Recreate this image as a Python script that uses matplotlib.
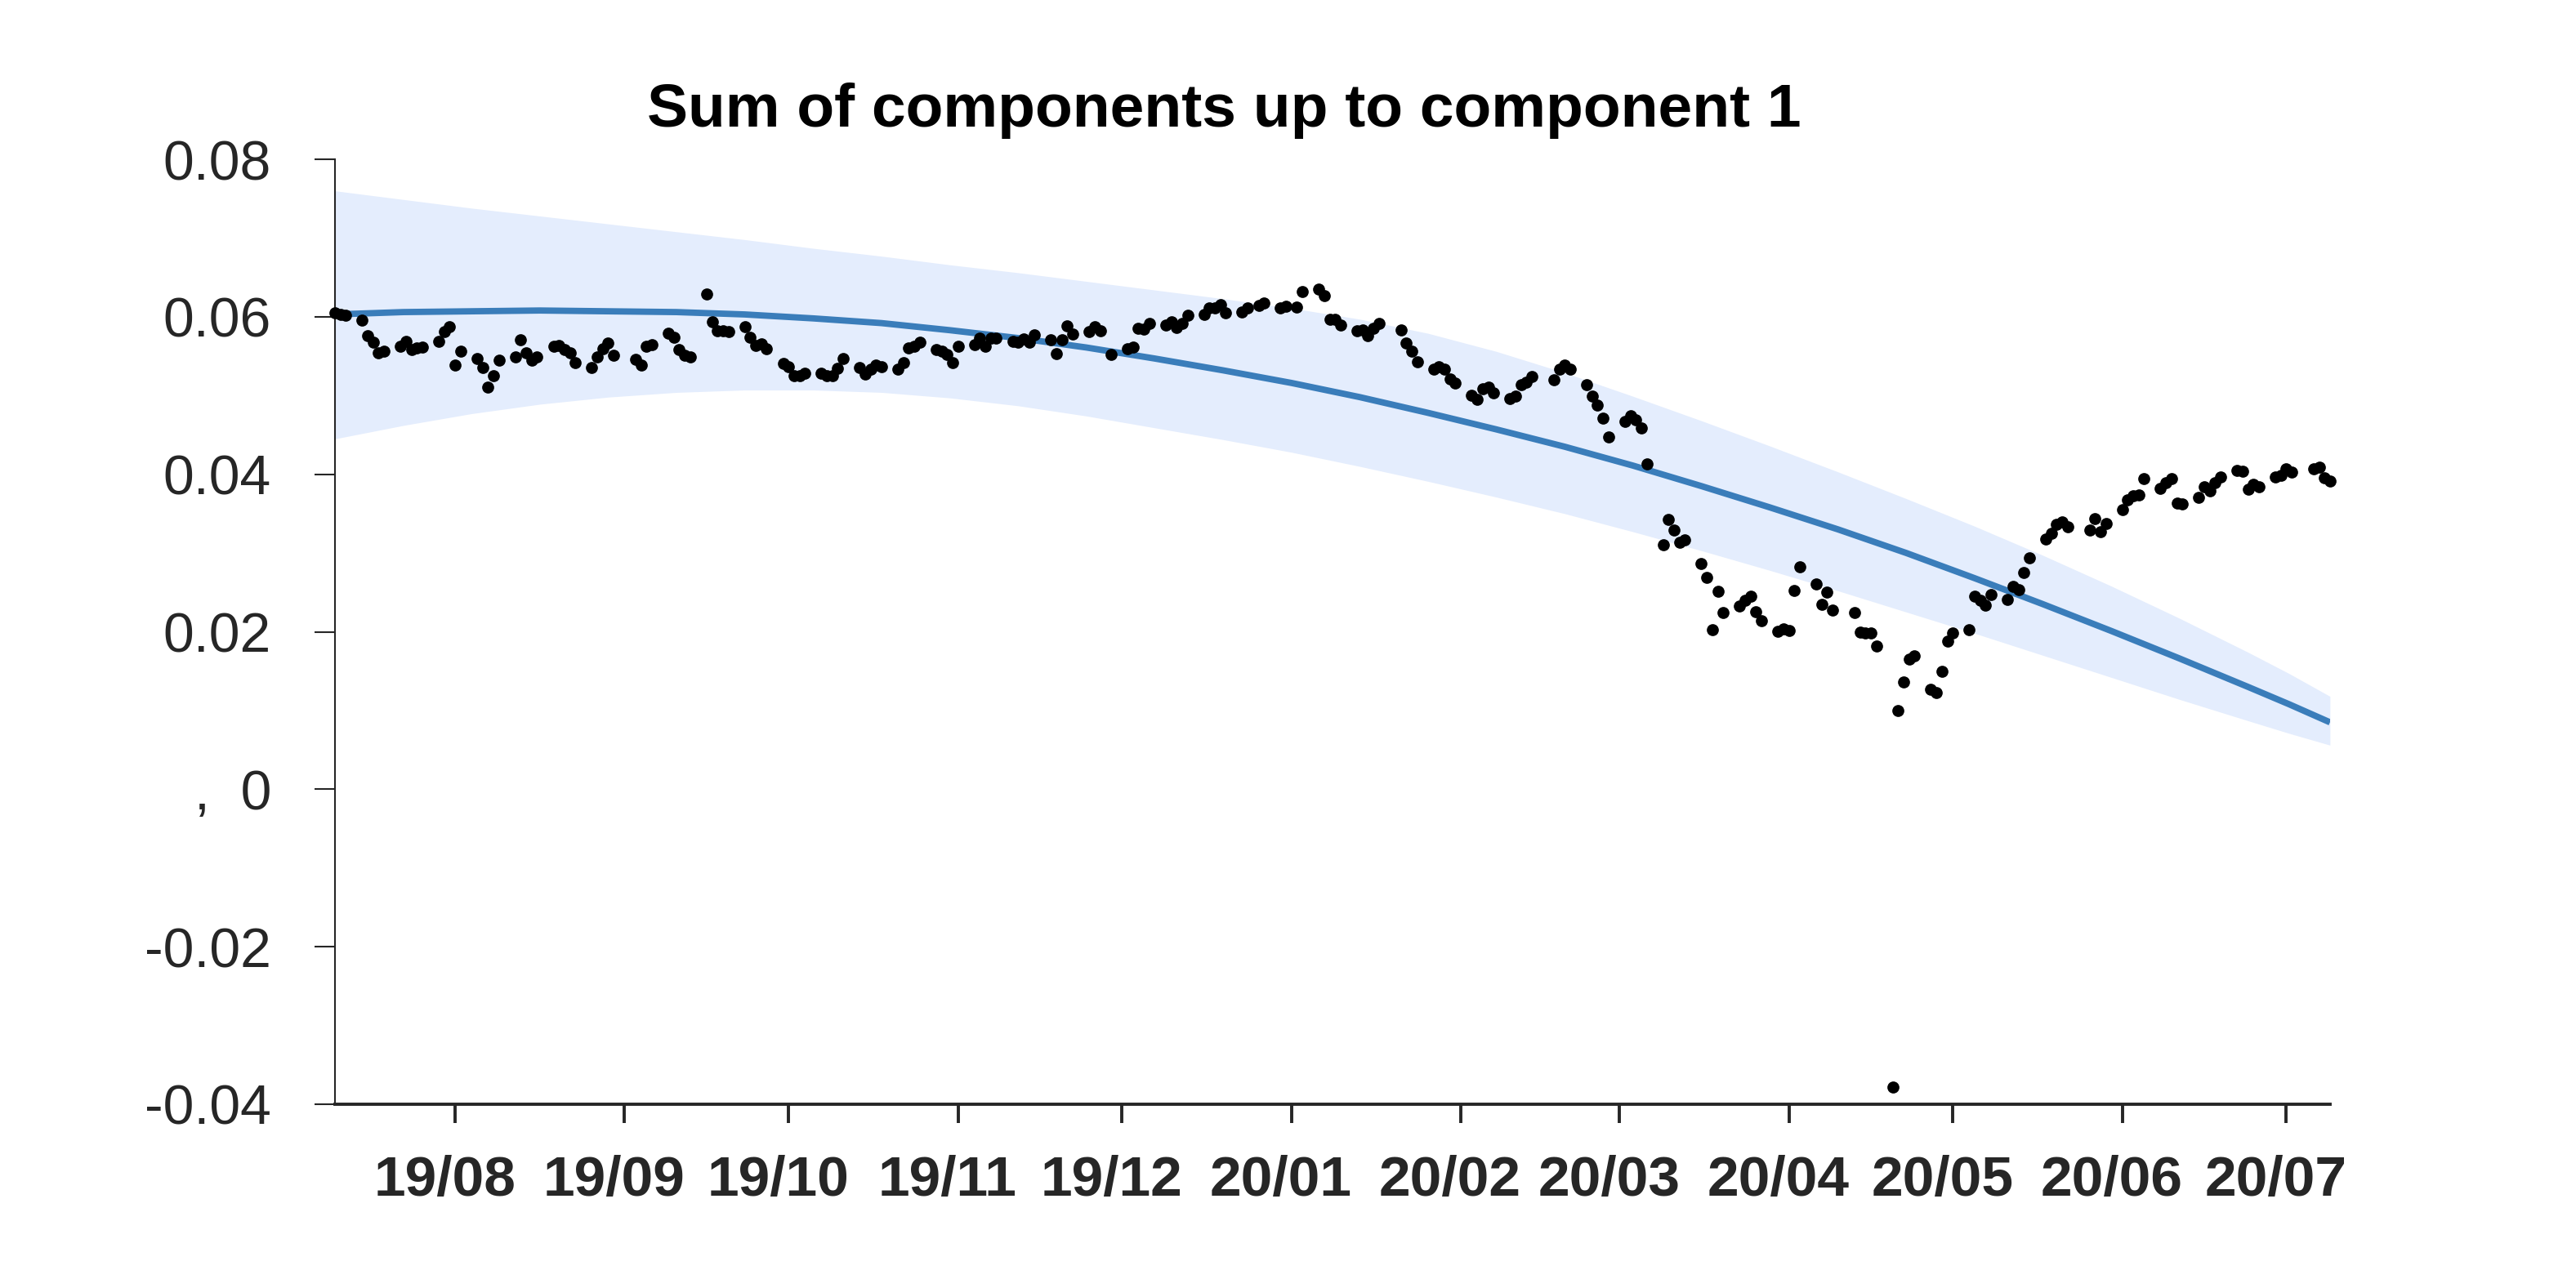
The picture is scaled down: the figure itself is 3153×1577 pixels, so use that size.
"""
Sum of components up to component 1 - observed daily values + fitted curve
with its confidence band.
"""

import numpy as np
import pandas as pd
import matplotlib
matplotlib.use('Agg')
import matplotlib.pyplot as plt
import matplotlib.transforms as mtransforms

plt.rcParams.update({
    'font.family': ['Liberation Sans', 'DejaVu Sans'],
    'axes.spines.top': False,
    'axes.spines.right': False,
})

C_LINE = '#3a7dba'
C_BAND = '#e4edfd'
C_AXIS = '#262626'

TITLE = 'Sum of components up to component 1'

START, END = '2019-07-10', '2020-07-09'
HOLIDAYS = ['2019-09-02', '2019-11-28', '2019-12-25', '2020-01-01', '2020-01-20',
            '2020-02-17', '2020-04-10', '2020-05-25', '2020-07-03']

# observed values, one per trading day, grouped by month
obs_2019_07 = [0.0605, 0.0603, 0.0602, 0.0596, 0.0576, 0.0568, 0.0554, 0.0556,
               0.0563, 0.0569, 0.0558, 0.0560, 0.0562, 0.0569, 0.0581, 0.0587]
obs_2019_08 = [0.0539, 0.0556, 0.0547, 0.0536, 0.0511, 0.0525, 0.0545, 0.0549,
               0.0571, 0.0554, 0.0545, 0.0549, 0.0563, 0.0564, 0.0558, 0.0554,
               0.0542, 0.0536, 0.0549, 0.0559, 0.0567, 0.0551]
obs_2019_09 = [0.0546, 0.0539, 0.0563, 0.0565, 0.0579, 0.0574, 0.0558, 0.0551,
               0.0549, 0.0629, 0.0594, 0.0582, 0.0582, 0.0581, 0.0587, 0.0574,
               0.0564, 0.0566, 0.0559, 0.0541]
obs_2019_10 = [0.0537, 0.0525, 0.0525, 0.0528, 0.0528, 0.0525, 0.0525, 0.0535,
               0.0547, 0.0536, 0.0527, 0.0534, 0.0539, 0.0537, 0.0533, 0.0542,
               0.0560, 0.0563, 0.0568, 0.0558, 0.0556, 0.0552, 0.0542]
obs_2019_11 = [0.0563, 0.0565, 0.0573, 0.0563, 0.0573, 0.0573, 0.0569, 0.0568,
               0.0572, 0.0568, 0.0577, 0.0571, 0.0553, 0.0571, 0.0588, 0.0578,
               0.0581, 0.0587, 0.0582, 0.0552]
obs_2019_12 = [0.0559, 0.0562, 0.0585, 0.0584, 0.0592, 0.0590, 0.0594, 0.0586,
               0.0592, 0.0602, 0.0603, 0.0611, 0.0611, 0.0615, 0.0605, 0.0606,
               0.0611, 0.0614, 0.0618, 0.0611, 0.0613]
obs_2020_01 = [0.0612, 0.0632, 0.0635, 0.0627, 0.0597, 0.0597, 0.0590, 0.0582,
               0.0583, 0.0576, 0.0585, 0.0592, 0.0583, 0.0567, 0.0556, 0.0543,
               0.0533, 0.0537, 0.0533, 0.0521, 0.0516]
obs_2020_02 = [0.0500, 0.0495, 0.0509, 0.0511, 0.0503, 0.0496, 0.0499, 0.0514,
               0.0517, 0.0524, 0.0520, 0.0533, 0.0539, 0.0534, 0.0514, 0.0499,
               0.0488, 0.0471, 0.0447]
obs_2020_03 = [0.0467, 0.0474, 0.0469, 0.0459, 0.0413, 0.0311, 0.0343, 0.0329,
               0.0314, 0.0317, 0.0287, 0.0269, 0.0203, 0.0251, 0.0224, 0.0233,
               0.0240, 0.0245, 0.0225, 0.0214, 0.0201, 0.0204]
obs_2020_04 = [0.0202, 0.0252, 0.0283, 0.0261, 0.0235, 0.0250, 0.0227, 0.0224,
               0.0199, 0.0198, 0.0198, 0.0182, -0.0378, 0.0100, 0.0136, 0.0165,
               0.0169, 0.0127, 0.0123, 0.0150, 0.0188]
obs_2020_05 = [0.0198, 0.0203, 0.0245, 0.0240, 0.0234, 0.0247, 0.0241, 0.0258,
               0.0253, 0.0275, 0.0294, 0.0318, 0.0325, 0.0336, 0.0340, 0.0333,
               0.0329, 0.0344, 0.0327, 0.0337]
obs_2020_06 = [0.0355, 0.0368, 0.0373, 0.0374, 0.0395, 0.0382, 0.0389, 0.0395,
               0.0363, 0.0362, 0.0371, 0.0384, 0.0379, 0.0389, 0.0397, 0.0405,
               0.0404, 0.0381, 0.0387, 0.0384, 0.0397, 0.0399]
obs_2020_07 = [0.0407, 0.0403, 0.0407, 0.0409, 0.0396, 0.0391]

# fitted curve and band, read every ~12 days (day offset from START)
CURVE_DAYS = [0, 12.5, 25, 37.5, 50, 62.5, 75, 87.5, 100, 112.5, 125, 137.5,
              150, 162.5, 175, 187.5, 200, 212.5, 225, 237.5, 250, 262.5,
              275, 287.5, 300, 312.5, 325, 337.5, 350, 357.5, 365]
FIT_MID = [0.0603, 0.0606, 0.0607, 0.0608, 0.0607, 0.0606, 0.0603, 0.0598,
           0.0592, 0.0583, 0.0573, 0.0561, 0.0547, 0.0532, 0.0516, 0.0498,
           0.0478, 0.0457, 0.0435, 0.0411, 0.0385, 0.0358, 0.0330, 0.0300,
           0.0268, 0.0235, 0.0201, 0.0166, 0.0130, 0.0108, 0.0085]
FIT_UPPER = [0.0760, 0.0749, 0.0738, 0.0728, 0.0718, 0.0708, 0.0698, 0.0687,
             0.0677, 0.0666, 0.0656, 0.0645, 0.0634, 0.0623, 0.0611, 0.0597,
             0.0579, 0.0556, 0.0529, 0.0499, 0.0468, 0.0436, 0.0403, 0.0369,
             0.0334, 0.0297, 0.0258, 0.0217, 0.0174, 0.0147, 0.0118]
FIT_LOWER = [0.0445, 0.0462, 0.0477, 0.0489, 0.0498, 0.0504, 0.0507, 0.0507,
             0.0504, 0.0497, 0.0487, 0.0474, 0.0459, 0.0444, 0.0428, 0.0410,
             0.0391, 0.0371, 0.0350, 0.0327, 0.0303, 0.0278, 0.0252, 0.0225,
             0.0198, 0.0170, 0.0142, 0.0114, 0.0087, 0.0071, 0.0056]

YTICKS = [-0.04, -0.02, 0.0, 0.02, 0.04, 0.06, 0.08]
YTICK_LABELS = ['-0.04', '-0.02', ',  0', '0.02', '0.04', '0.06', '0.08']
XTICK_MONTHS = ['2019-08-01', '2019-09-01', '2019-10-01', '2019-11-01',
                '2019-12-01', '2020-01-01', '2020-02-01', '2020-03-01',
                '2020-04-01', '2020-05-01', '2020-06-01', '2020-07-01']


def main():
    days = pd.bdate_range(START, END, freq='C', holidays=HOLIDAYS)
    obs = np.concatenate([obs_2019_07, obs_2019_08, obs_2019_09, obs_2019_10,
                          obs_2019_11, obs_2019_12, obs_2020_01, obs_2020_02,
                          obs_2020_03, obs_2020_04, obs_2020_05, obs_2020_06,
                          obs_2020_07])
    assert len(obs) == len(days), (len(obs), len(days))
    cdates = pd.Timestamp(START) + pd.to_timedelta(CURVE_DAYS, unit='D')
    xt = pd.to_datetime(XTICK_MONTHS)

    fig = plt.figure(figsize=(15.765, 7.885), dpi=200)
    ax = fig.add_axes([0.1300, 0.1427, 0.7745, 0.7336])

    ax.fill_between(cdates, FIT_LOWER, FIT_UPPER, color=C_BAND,
                    linewidth=0, zorder=1)
    ax.plot(cdates, FIT_MID, color=C_LINE, linewidth=2.8, zorder=2,
            solid_capstyle='butt', solid_joinstyle='round')
    ax.scatter(days, obs, s=28, color='black', linewidths=0, zorder=3,
               clip_on=False)

    ax.set_xlim(pd.Timestamp(START), pd.Timestamp(END))
    ax.set_ylim(-0.04, 0.08)
    ax.set_yticks(YTICKS)
    ax.set_yticklabels(YTICK_LABELS)
    ax.set_xticks(xt)
    ax.set_xticklabels([d.strftime('%y/%m') for d in xt])

    ax.tick_params(axis='y', length=9, width=0.75, pad=19, labelsize=24.5,
                   colors=C_AXIS)
    ax.tick_params(axis='x', length=8.3, width=1.4, pad=14, labelsize=25,
                   colors=C_AXIS)
    shift = mtransforms.ScaledTranslation(-0.065, 0, fig.dpi_scale_trans)
    for lbl in ax.get_xticklabels():
        lbl.set_fontweight('bold')
        lbl.set_transform(lbl.get_transform() + shift)

    ax.spines['left'].set_linewidth(0.75)
    ax.spines['bottom'].set_linewidth(1.4)
    for s in ('left', 'bottom'):
        ax.spines[s].set_color(C_AXIS)
    ax.patch.set_visible(False)

    fig.text(0.4751, 0.9017, TITLE, ha='center', va='baseline',
             fontsize=27, fontweight='bold', color='black')

    fig.savefig('out.png', dpi=200)
    plt.close(fig)


if __name__ == '__main__':
    main()
